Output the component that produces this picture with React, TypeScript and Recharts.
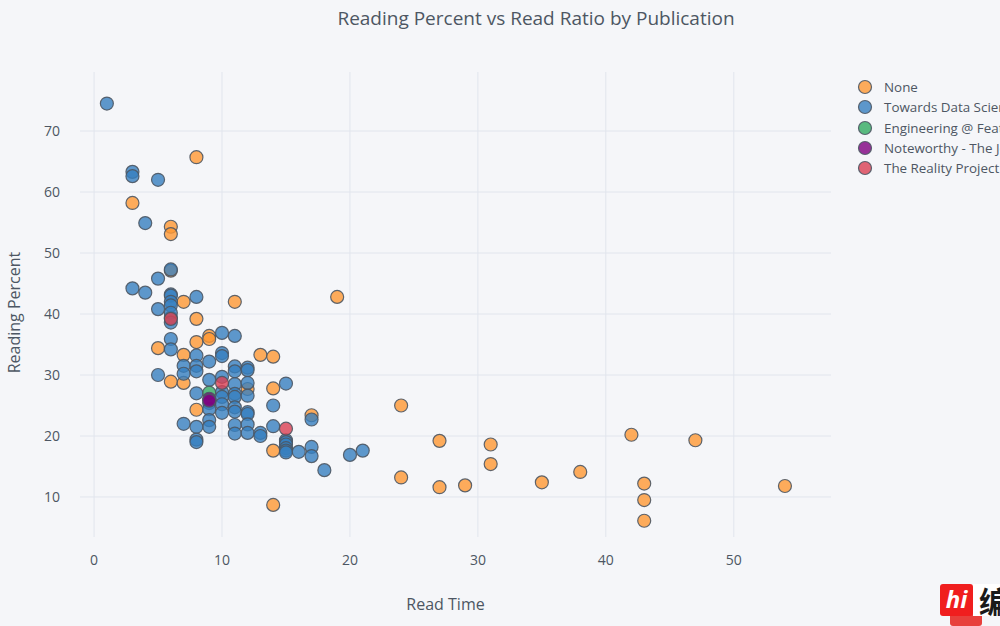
import React from "react";
import {
  ScatterChart,
  Scatter,
  XAxis,
  YAxis,
  CartesianGrid,
  Label,
} from "recharts";

const FONT = '"Open Sans", sans-serif';
const TEXT = "#4D5663";
const GRID = "#E1E5ED";
const PAPER = "#F5F6F9";
const MARKER_R = 6.5;

const xTicks = [0, 10, 20, 30, 40, 50];
const yTicks = [10, 20, 30, 40, 50, 60, 70];

const noneTime = [3, 8, 6, 6, 6, 7, 11, 19, 8, 6, 5, 8, 9, 9, 7, 6, 7, 13, 14, 14, 12, 8, 17, 24, 14, 14, 27, 31, 31, 24, 27, 29, 35, 38, 42, 47, 43, 43, 43, 54];
const nonePercent = [58.2, 65.7, 54.3, 53.1, 47.1, 42, 42, 42.8, 39.2, 39.4, 34.4, 35.4, 36.4, 35.9, 33.3, 28.9, 28.7, 33.3, 33, 27.8, 27.7, 24.3, 23.4, 25, 17.6, 8.7, 19.2, 18.6, 15.4, 13.2, 11.6, 11.9, 12.4, 14.1, 20.2, 19.3, 12.2, 9.5, 6.1, 11.8];

const tdsTime = [1, 3, 3, 5, 4, 6, 5, 3, 4, 6, 6, 8, 6, 6, 5, 6, 6, 6, 6, 11, 10, 10, 10, 8, 9, 7, 7, 8, 8, 5, 11, 11, 12, 12, 9, 10, 11, 12, 15, 8, 10, 10, 11, 11, 12, 9, 10, 14, 9, 11, 11, 12, 12, 10, 9, 17, 7, 9, 8, 11, 12, 14, 11, 12, 13, 13, 8, 8, 15, 15, 15, 15, 15, 15, 17, 16, 17, 20, 21, 18];
const tdsPercent = [74.5, 63.3, 62.6, 62, 54.9, 47.3, 45.8, 44.2, 43.5, 43.2, 43, 42.8, 42, 41.4, 40.8, 40.2, 38.6, 35.9, 34.2, 36.4, 36.9, 33.6, 33.1, 33.2, 32.2, 31.5, 30.2, 31.5, 30.6, 30, 31.4, 30.6, 31.2, 30.8, 29.2, 29.7, 28.5, 28.7, 28.6, 27, 27.2, 26.4, 26.9, 26.4, 26.6, 25.4, 25.2, 25, 24.4, 24.7, 24, 23.9, 23.6, 23.8, 22.6, 22.7, 22, 21.5, 21.5, 21.8, 21.9, 21.6, 20.4, 20.5, 20.5, 20, 19.4, 19, 19.3, 19, 18.6, 18, 17.6, 17.3, 18.2, 17.4, 16.7, 16.9, 17.6, 14.4];

const featureTime = [9];
const featurePercent = [27.1];

const noteworthyTime = [9, 9];
const noteworthyPercent = [26.1, 25.8];

const realityTime = [6, 10, 15];
const realityPercent = [39.2, 28.7, 21.2];

const toPoints = (times: number[], percents: number[]) =>
  times.map((t, i) => ({ time: t, percent: percents[i] }));

const series = [
  { name: "None", color: "#FF9933", data: toPoints(noneTime, nonePercent) },
  { name: "Towards Data Science", color: "#3780BF", data: toPoints(tdsTime, tdsPercent) },
  { name: "Engineering @ Feature Labs", color: "#32AB60", data: toPoints(featureTime, featurePercent) },
  { name: "Noteworthy - The Journal Blog", color: "#800080", data: toPoints(noteworthyTime, noteworthyPercent) },
  { name: "The Reality Project", color: "#DB4052", data: toPoints(realityTime, realityPercent) },
];

const Marker = ({ cx, cy, fill }: any) => (
  <circle
    cx={cx}
    cy={cy}
    r={MARKER_R}
    fill={fill}
    fillOpacity={0.8}
    stroke={TEXT}
    strokeOpacity={0.9}
    strokeWidth={1.2}
  />
);

// plain html legend: the Recharts one eats plot width when it sits on the right
const PublicationLegend = () => (
  <div
    style={{
      position: "absolute",
      left: 855,
      top: 77,
      width: 300,
      fontFamily: FONT,
      fontSize: 13.4,
      color: TEXT,
    }}
  >
    {series.map((s) => (
      <div
        key={s.name}
        style={{ display: "flex", alignItems: "center", height: 20.3, whiteSpace: "nowrap" }}
      >
        <svg width={29} height={20} style={{ flex: "none" }}>
          <Marker cx={10} cy={10} fill={s.color} />
        </svg>
        <span>{s.name}</span>
      </div>
    ))}
  </div>
);

export default function App() {
  return (
    <div
      style={{
        position: "absolute",
        left: 0,
        top: 0,
        width: 1000,
        height: 626,
        overflow: "hidden",
        background: PAPER,
      }}
    >
      <div
        style={{
          position: "absolute",
          top: 5,
          left: 80,
          width: 912,
          textAlign: "center",
          fontFamily: FONT,
          fontSize: 19,
          color: TEXT,
          whiteSpace: "nowrap",
        }}
      >
        Reading Percent vs Read Ratio by Publication
      </div>
      <ScatterChart
        width={1000}
        height={626}
        margin={{ top: 72, right: 169, bottom: 0, left: 0 }}
      >
        <CartesianGrid
          stroke={GRID}
          strokeWidth={1}
          horizontalValues={yTicks}
          verticalValues={xTicks}
        />
        <XAxis
          type="number"
          dataKey="time"
          domain={[-1.1, 57.6]}
          ticks={xTicks}
          allowDataOverflow
          axisLine={false}
          tickLine={false}
          tickSize={0}
          tickMargin={18}
          height={89}
          tick={{ fill: TEXT, fontSize: 14, fontFamily: FONT }}
        >
          <Label
            value="Read Time"
            position="insideTop"
            offset={62}
            dx={-10}
            style={{ fill: TEXT, fontSize: 16, fontFamily: FONT }}
          />
        </XAxis>
        <YAxis
          type="number"
          dataKey="percent"
          domain={[3.44, 79.67]}
          ticks={yTicks}
          allowDataOverflow
          axisLine={false}
          tickLine={false}
          tickSize={0}
          tickMargin={20}
          width={80}
          tick={{ fill: TEXT, fontSize: 14, fontFamily: FONT }}
        >
          <Label
            value="Reading Percent"
            angle={-90}
            position="insideLeft"
            offset={14}
            dy={8}
            style={{ fill: TEXT, fontSize: 16, fontFamily: FONT, textAnchor: "middle" }}
          />
        </YAxis>
        {series.map((s) => (
          <Scatter
            key={s.name}
            name={s.name}
            data={s.data}
            fill={s.color}
            shape={<Marker />}
            isAnimationActive={false}
          />
        ))}
      </ScatterChart>
      <PublicationLegend />
      <div
        style={{
          position: "absolute",
          left: 950,
          top: 612,
          width: 32,
          height: 14,
          background: "#E8403C",
          borderRadius: 3,
        }}
      />
      <div
        style={{
          position: "absolute",
          left: 973,
          top: 584,
          width: 27,
          height: 32,
          background: "#FFFFFF",
          color: "#1A1A1A",
          fontFamily: '"Noto Sans CJK SC"',
          fontWeight: 700,
          fontSize: 30,
          lineHeight: "32px",
          paddingLeft: 6,
          boxSizing: "border-box",
          overflow: "hidden",
          whiteSpace: "nowrap",
        }}
      >
        编
      </div>
      <div
        style={{
          position: "absolute",
          left: 940,
          top: 584,
          width: 33,
          height: 32,
          background: "#F01E1E",
          borderRadius: 3,
          color: "#FFFFFF",
          fontFamily: FONT,
          fontStyle: "italic",
          fontWeight: 700,
          fontSize: 24,
          lineHeight: "30px",
          textAlign: "center",
        }}
      >
        hi
      </div>
    </div>
  );
}
